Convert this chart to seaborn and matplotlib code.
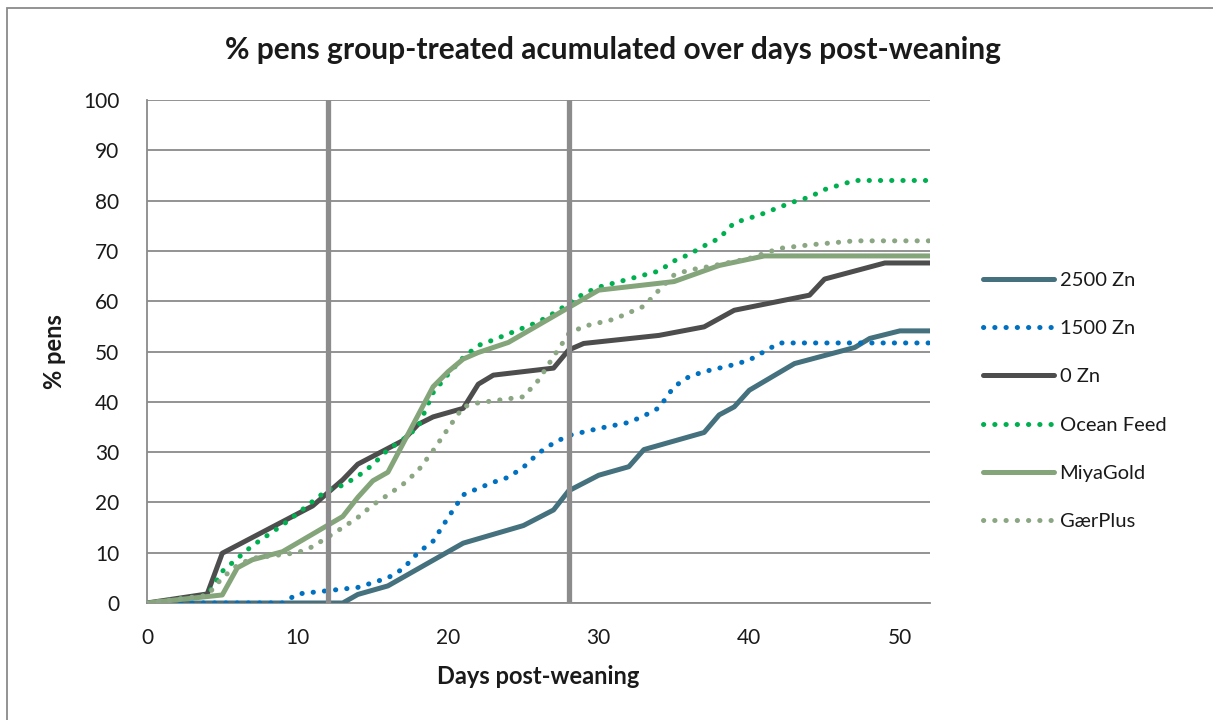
import matplotlib
matplotlib.use("Agg")
import matplotlib.pyplot as plt
import seaborn as sns
import pandas as pd
from matplotlib.patches import Rectangle

# ---- data ----
days_2500 = [0, 13, 14, 16, 21, 25, 27, 28, 30, 32, 33, 37, 38, 39, 40, 43, 47, 48, 50, 52]
pct_2500 = [0, 0, 1.7, 3.4, 11.9, 15.4, 18.5, 22.3, 25.4, 27.1, 30.5, 33.9, 37.4, 39.0, 42.3, 47.6, 50.8, 52.6, 54.1, 54.1]

days_1500 = [0, 9, 10, 14, 16, 17, 18, 19, 20, 21, 22, 23, 24, 25, 26, 27, 28, 30, 32, 33, 34, 35, 36, 37, 38, 39, 40, 41, 42, 52]
pct_1500 = [0, 0, 1.8, 3.1, 5.0, 6.8, 10.0, 12.3, 17.0, 21.5, 22.8, 24.0, 25.0, 27.0, 29.8, 31.8, 33.3, 34.7, 35.9, 37.2, 38.8, 43.0, 45.0, 46.0, 46.7, 47.4, 48.3, 50.0, 51.7, 51.7]

days_0 = [0, 4, 5, 11, 13, 14, 17, 18, 19, 21, 22, 23, 27, 28, 29, 34, 37, 39, 44, 45, 49, 52]
pct_0 = [0, 1.8, 9.9, 19.3, 24.5, 27.6, 32.3, 35.5, 37.0, 38.7, 43.5, 45.3, 46.7, 50.3, 51.6, 53.2, 54.9, 58.2, 61.2, 64.4, 67.6, 67.6]

days_ocean = [0, 4, 5, 7, 9, 10, 11, 12, 13, 14, 15, 16, 17, 18, 19, 20, 21, 22, 23, 24, 26, 27, 28, 29, 30, 34, 35, 36, 37, 38, 39, 40, 41, 42, 43, 44, 45, 46, 47, 52]
pct_ocean = [0, 1.5, 6.3, 11.4, 15.5, 17.8, 20.2, 22.5, 23.4, 25.2, 27.5, 30.5, 32.5, 35.0, 41.8, 45.5, 48.8, 51.2, 52.3, 53.5, 55.9, 57.6, 59.5, 61.5, 62.8, 66.0, 68.0, 69.3, 71.0, 72.5, 75.6, 76.5, 77.5, 78.7, 79.8, 80.7, 82.2, 83.1, 84.0, 84.0]

days_miya = [0, 5, 6, 7, 9, 13, 14, 15, 16, 19, 20, 21, 22, 24, 30, 35, 38, 41, 52]
pct_miya = [0, 1.6, 7.0, 8.6, 10.2, 17.2, 21.0, 24.3, 26.0, 43.0, 46.0, 48.5, 49.8, 51.8, 62.2, 63.9, 67.1, 69.0, 69.0]

days_gaer = [0, 4, 5, 6, 7, 10, 11, 13, 14, 15, 16, 17, 18, 19, 20, 21, 22, 25, 26, 27, 28, 29, 31, 33, 34, 35, 36, 37, 40, 41, 42, 44, 47, 52]
pct_gaer = [0, 1.5, 5.0, 7.5, 8.9, 10.0, 11.2, 15.0, 17.0, 19.5, 21.5, 23.6, 26.3, 30.3, 34.7, 39.0, 39.8, 41.0, 44.3, 49.0, 53.5, 55.0, 56.4, 59.0, 62.2, 65.2, 66.2, 66.7, 68.5, 69.5, 70.5, 71.2, 72.0, 72.0]

series_names = ["2500 Zn", "1500 Zn", "0 Zn", "Ocean Feed", "MiyaGold", "GærPlus"]
series_days = [days_2500, days_1500, days_0, days_ocean, days_miya, days_gaer]
series_pct = [pct_2500, pct_1500, pct_0, pct_ocean, pct_miya, pct_gaer]
marker_days = [12, 28]
x_ticks = [0, 10, 20, 30, 40, 50]
y_ticks = [0, 10, 20, 30, 40, 50, 60, 70, 80, 90, 100]

# ---- style ----
colors = ["#44717D", "#0070C0", "#4D4D4D", "#00B050", "#84A47A", "#8BA683"]
dotted = [False, True, False, True, False, True]

sns.set_theme(style="white")
plt.rcParams["font.family"] = ["Lato", "DejaVu Sans"]

fig = plt.figure(figsize=(12.13, 7.2), dpi=100)
ax = fig.add_axes([147 / 1213, 1 - 603 / 720, (930 - 147) / 1213, (603 - 100) / 720])

frames = []
for name, d, p in zip(series_names, series_days, series_pct):
    frames.append(pd.DataFrame({"day": d, "pct": p, "series": name}))
df = pd.concat(frames, ignore_index=True)

lw = 3.6
for i, name in enumerate(series_names):
    sub = df[df["series"] == name]
    kw = dict(color=colors[i], linewidth=lw, label=name, zorder=3 + i * 0.1)
    if dotted[i]:
        kw.update(linestyle=(0, (0.05, 2.2)), dash_capstyle="round")
    else:
        kw.update(solid_capstyle="round", solid_joinstyle="round")
    sns.lineplot(data=sub, x="day", y="pct", ax=ax, estimator=None, sort=False, **kw)

for md in marker_days:
    ax.axvline(md, color="#8C8C8C", linewidth=3.8, zorder=5)

ax.set_xlim(0, 52)
ax.set_ylim(0, 100)
ax.set_xticks(x_ticks)
ax.set_yticks(y_ticks)
ax.yaxis.grid(True, color="#8A8A8A", linewidth=1.3, zorder=0)
ax.xaxis.grid(False)
ax.set_axisbelow(True)
for s in ["top", "right"]:
    ax.spines[s].set_visible(False)
for s in ["left", "bottom"]:
    ax.spines[s].set_color("#8A8A8A")
    ax.spines[s].set_linewidth(1.3)
ax.tick_params(axis="both", which="major", direction="out", length=6, width=1.3,
               color="#8A8A8A", labelsize=15, labelcolor="#1a1a1a", pad=14)
ax.tick_params(axis="x", pad=12)

ax.set_xlabel("Days post-weaning", fontsize=17, fontweight="bold", color="#1a1a1a", labelpad=12)
ax.set_ylabel("% pens", fontsize=17, fontweight="bold", color="#1a1a1a", labelpad=12)

fig.text(613 / 1213, 1 - 50 / 720, "% pens group-treated acumulated over days post-weaning",
         ha="center", va="center", fontsize=21.5, fontweight="bold", color="#1a1a1a")

handles, labels = ax.get_legend_handles_labels()
if ax.legend_:
    ax.legend_.remove()
leg = fig.legend(handles, labels, loc="center left", bbox_to_anchor=(975 / 1213, 1 - 401 / 720),
                 frameon=False, fontsize=14.5, handlelength=3.5, handletextpad=0.3,
                 labelspacing=1.55, borderaxespad=0)
for t in leg.get_texts():
    t.set_color("#1a1a1a")

# outer chart border (left and top edges visible)
fig.patches.append(Rectangle((7 / 1213, -0.05), 1.2, 1 - 8 / 720 + 0.05, transform=fig.transFigure,
                             fill=False, edgecolor="#8A8A8A", linewidth=1.3, figure=fig))

fig.savefig("out.png", dpi=100)
